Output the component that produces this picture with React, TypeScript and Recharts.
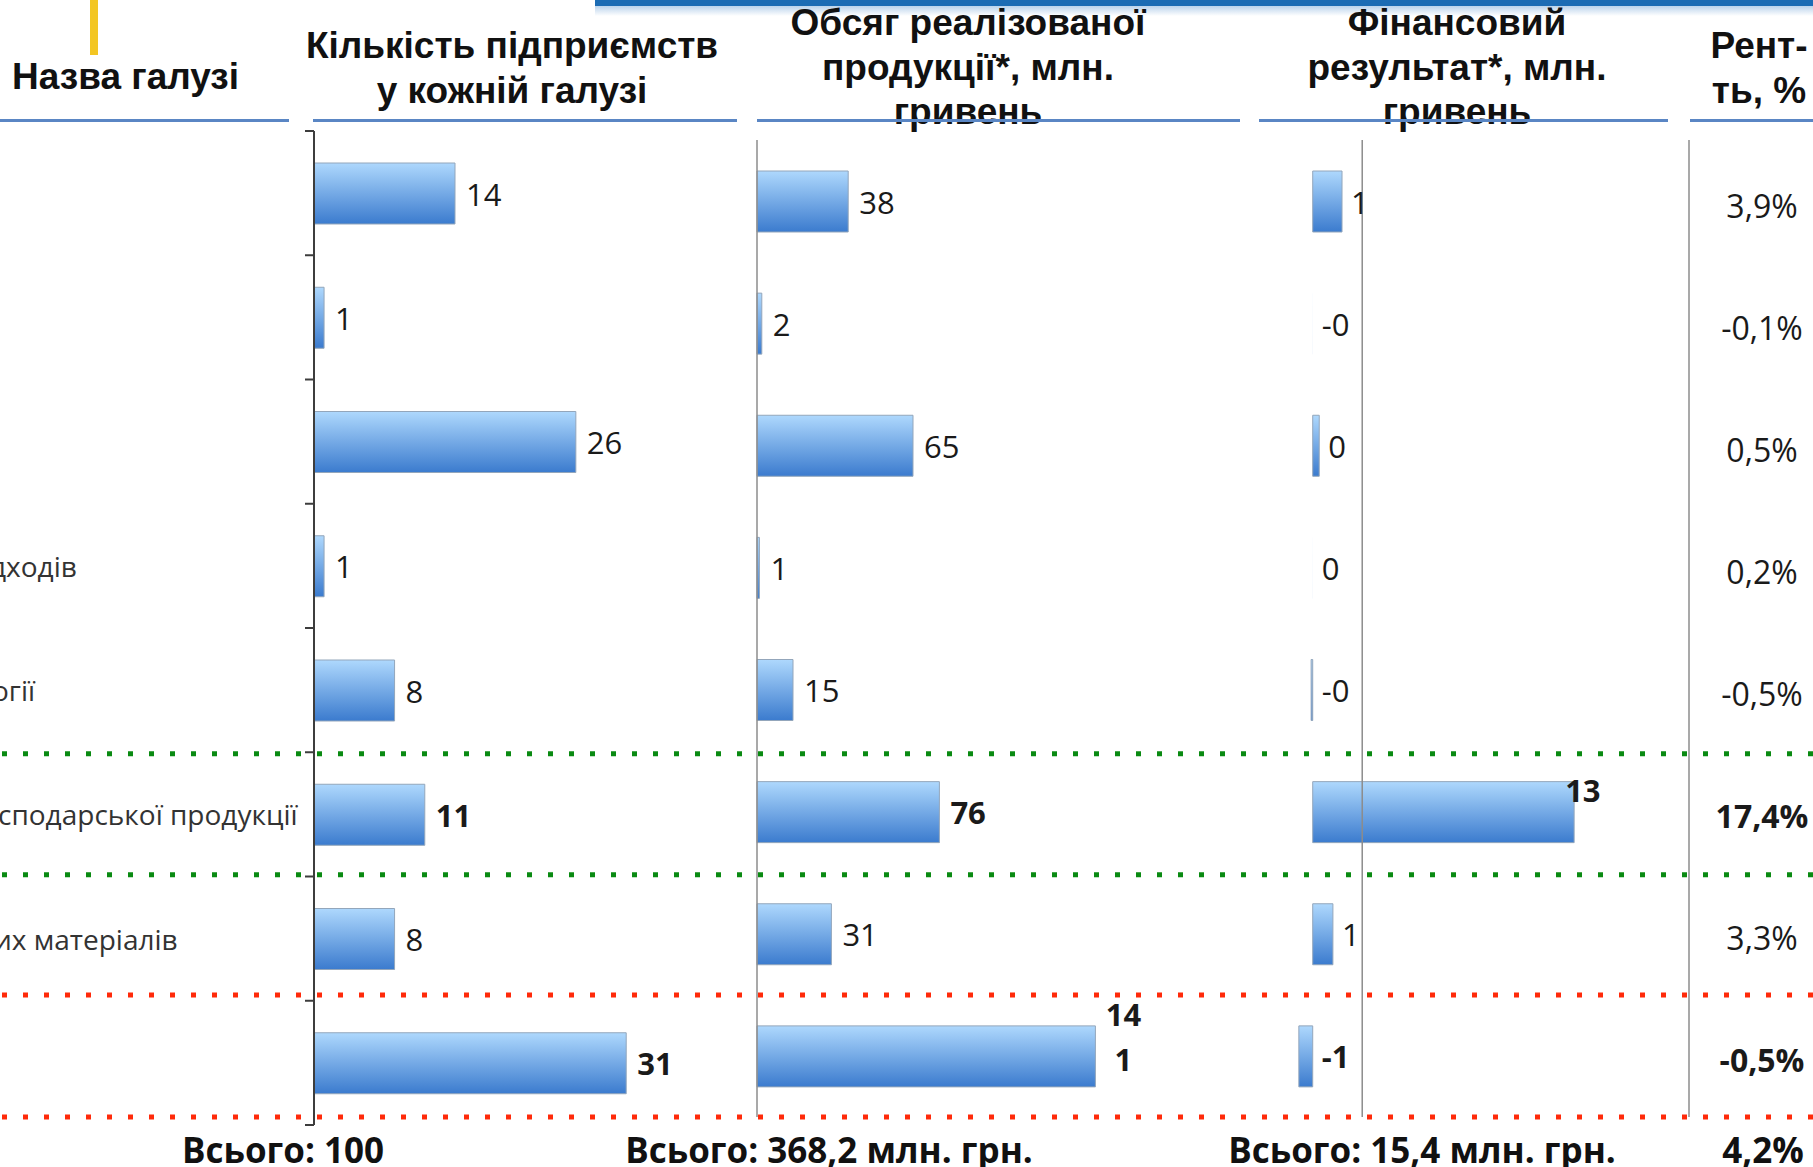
import React from "react";
import { BarChart, Bar, XAxis, YAxis, LabelList, ReferenceLine, Cell } from "recharts";

const rowKeys = ["r1", "r2", "r3", "r4", "r5", "r6", "r7", "r8"];
// visible (cropped) fragments of the industry names
const industryLabels = ["", "", "", "дходів", "огії", "сподарської продукції", "их матеріалів", ""];
const companies = [14, 1, 26, 1, 8, 11, 8, 31];
const salesVolume = [38, 2, 65, 1, 15, 76, 31, 141];
const finResult = [1.48, -0.002, 0.33, 0.002, -0.08, 13.2, 1.02, -0.7];
const profitability = ["3,9%", "-0,1%", "0,5%", "0,2%", "-0,5%", "17,4%", "3,3%", "-0,5%"];
const highlighted = [false, false, false, false, false, true, false, true];
const totals = ["Всього: 100", "Всього: 368,2 млн. грн.", "Всього: 15,4 млн. грн.", "4,2%"];

const rows = rowKeys.map((key, i) => ({
  key,
  companies: companies[i],
  sales: salesVolume[i],
  fin: finResult[i],
}));

const H = 1167;
const BODY = "'Open Sans', 'Noto Sans', sans-serif";
const HEAD = "'Liberation Sans', Arial, sans-serif";

// chart 1 geometry
const C1_TOP = 131;
const C1_BOTTOM = 1125;
const C1_AXIS = 314;
const C1_BAND = (C1_BOTTOM - C1_TOP) / rowKeys.length;
const labelShift = [0, 0, 0, -10, -8, -2, -6, 0];

// charts 2 and 3 geometry
const C2_TOP = 140;
const C2_BOTTOM = 1117;
const C2_BAND = (C2_BOTTOM - C2_TOP) / rowKeys.length;

const BAR_STROKE = "#93a6bb";

function Grad({ id }: { id: string }) {
  return (
    <defs>
      <linearGradient id={id} x1="0" y1="0" x2="0" y2="1">
        <stop offset="0%" stopColor="#aed8fd" />
        <stop offset="100%" stopColor="#3b7bce" />
      </linearGradient>
    </defs>
  );
}

function IndustryTick(props: any) {
  const { y, index } = props;
  const half = C1_BAND / 2;
  const label = industryLabels[index];
  return (
    <g>
      <line x1={C1_AXIS - 9} x2={C1_AXIS} y1={y - half} y2={y - half} stroke="#3d3d3d" strokeWidth={2} />
      {index === rowKeys.length - 1 && (
        <line x1={C1_AXIS - 9} x2={C1_AXIS} y1={y + half} y2={y + half} stroke="#3d3d3d" strokeWidth={2} />
      )}
      {label && (
        <text x={labelShift[index]} y={y} dominantBaseline="central" fontFamily={BODY} fontSize={28} fill="#333">
          {label}
        </text>
      )}
    </g>
  );
}

function valueText(x: number, y: number, text: string, bold: boolean, anchor = "start") {
  return (
    <text
      x={x}
      y={y}
      dominantBaseline="central"
      textAnchor={anchor}
      fontFamily={BODY}
      fontSize={31}
      fontWeight={bold ? 700 : 400}
      fill="#1a1a1a"
    >
      {text}
    </text>
  );
}

function companiesLabel(p: any) {
  const end = Math.max(p.x, p.x + p.width);
  return valueText(end + 11, p.y + p.height / 2, String(p.value), highlighted[p.index]);
}

function salesLabel(p: any) {
  const end = Math.max(p.x, p.x + p.width);
  const cy = p.y + p.height / 2;
  const s = String(p.value);
  if (p.index === rowKeys.length - 1) {
    // wrapped label as in the original
    return (
      <g>
        {valueText(end + 28, cy - 42, s.slice(0, 2), true, "middle")}
        {valueText(end + 28, cy + 3, s.slice(2), true, "middle")}
      </g>
    );
  }
  return valueText(end + 11, cy, s, highlighted[p.index]);
}

function finLabel(p: any) {
  const v = Number(p.value);
  const text = v < 0 ? "-" + Math.abs(Math.round(v)) : String(Math.round(v));
  const end = Math.max(p.x, p.x + p.width);
  const cy = p.y + p.height / 2;
  if (p.index === 5) return valueText(end - 9, cy - 22, text, true);
  return valueText(end + 9, cy, text, highlighted[p.index]);
}

function RentTick(props: any) {
  const { y, index } = props;
  return (
    <text
      x={502}
      y={y + 4}
      dominantBaseline="central"
      textAnchor="middle"
      fontFamily={BODY}
      fontSize={32}
      fontWeight={highlighted[index] ? 700 : 400}
      fill="#1a1a1a"
    >
      {profitability[index]}
    </text>
  );
}

function Header({ x, y, lines, align = "center" }: { x: number; y: number; lines: string[]; align?: string }) {
  return (
    <div
      style={{
        position: "absolute",
        left: x,
        top: y,
        transform: align === "center" ? "translateX(-50%)" : undefined,
        whiteSpace: "nowrap",
        textAlign: "center",
        fontFamily: HEAD,
        fontWeight: 700,
        fontSize: 37,
        lineHeight: "44.5px",
        color: "#111",
      }}
    >
      {lines.map((l, i) => (
        <div key={i}>{l}</div>
      ))}
    </div>
  );
}

function Total({ x, text }: { x: number; text: string }) {
  return (
    <div
      style={{
        position: "absolute",
        left: x,
        top: 1149,
        transform: "translate(-50%, -50%)",
        whiteSpace: "nowrap",
        fontFamily: BODY,
        fontWeight: 700,
        fontSize: 35,
        color: "#111",
      }}
    >
      {text}
    </div>
  );
}

const underlines = [
  [0, 289],
  [313, 737],
  [757, 1240],
  [1259, 1668],
  [1690, 1813],
];

export default function App() {
  const dotted = [
    { k: 5, color: "#0a8a12", nudge: 3 },
    { k: 6, color: "#0a8a12", nudge: 2 },
    { k: 7, color: "#ff2a0a", nudge: 0 },
    { k: 8, color: "#ff2a0a", nudge: 0 },
  ];
  return (
    <div
      style={{
        position: "absolute",
        left: 0,
        top: 0,
        width: 1813,
        height: H,
        overflow: "hidden",
        background: "#fff",
      }}
    >
      {/* top decorations */}
      <div style={{ position: "absolute", left: 595, top: 0, width: 1218, height: 6, background: "#1c6cb4" }} />
      <div
        style={{
          position: "absolute",
          left: 595,
          top: 6,
          width: 1218,
          height: 10,
          background: "linear-gradient(to bottom, rgba(60,130,200,0.35), rgba(255,255,255,0))",
        }}
      />
      <div style={{ position: "absolute", left: 90, top: 0, width: 8, height: 55, background: "#f3c623" }} />

      <Header x={12} y={55} lines={["Назва галузі"]} align="left" />
      <Header x={512} y={24} lines={["Кількість підприємств", "у кожній галузі"]} />
      <Header x={968} y={1} lines={["Обсяг реалізованої", "продукції*, млн.", "гривень"]} />
      <Header x={1457} y={1} lines={["Фінансовий", "результат*, млн.", "гривень"]} />
      <Header x={1759} y={24} lines={["Рент-", "ть, %"]} />

      {underlines.map(([a, b], i) => (
        <div
          key={i}
          style={{ position: "absolute", left: a, top: 119, width: b - a, height: 3, background: "#5a86c4" }}
        />
      ))}

      {/* chart 1: number of enterprises */}
      <div style={{ position: "absolute", left: 0, top: 0 }}>
        <BarChart
          width={737}
          height={H}
          layout="vertical"
          data={rows}
          margin={{ top: C1_TOP, bottom: H - C1_BOTTOM, left: 0, right: 0 }}
        >
          <Grad id="g1" />
          <XAxis type="number" hide domain={[0, 42]} />
          <YAxis
            type="category"
            dataKey="key"
            width={C1_AXIS}
            interval={0}
            axisLine={{ stroke: "#3d3d3d", strokeWidth: 2 }}
            tickLine={false}
            tick={<IndustryTick />}
          />
          <Bar dataKey="companies" fill="url(#g1)" stroke={BAR_STROKE} strokeWidth={1} barSize={61} isAnimationActive={false}>
            <LabelList dataKey="companies" content={companiesLabel} />
          </Bar>
        </BarChart>
      </div>

      {/* chart 2: sales volume */}
      <div style={{ position: "absolute", left: 740, top: 0 }}>
        <BarChart
          width={560}
          height={H}
          layout="vertical"
          data={rows}
          margin={{ top: C2_TOP, bottom: H - C2_BOTTOM, left: 17, right: 63 }}
        >
          <Grad id="g2" />
          <XAxis type="number" hide domain={[0, 200]} />
          <YAxis type="category" dataKey="key" hide />
          <ReferenceLine x={0} stroke="#8c8c8c" strokeWidth={1.5} />
          <Bar dataKey="sales" fill="url(#g2)" stroke={BAR_STROKE} strokeWidth={1} barSize={61} isAnimationActive={false}>
            <LabelList dataKey="sales" content={salesLabel} />
          </Bar>
        </BarChart>
      </div>

      {/* chart 3: financial result + profitability column */}
      <div style={{ position: "absolute", left: 1260, top: 0 }}>
        <BarChart
          width={553}
          height={H}
          layout="vertical"
          data={rows}
          margin={{ top: C2_TOP, bottom: H - C2_BOTTOM, left: 23, right: 0 }}
        >
          <Grad id="g3" />
          <XAxis type="number" hide domain={[-1.5, 19]} />
          <YAxis
            type="category"
            dataKey="key"
            orientation="right"
            width={124}
            interval={0}
            axisLine={{ stroke: "#8c8c8c", strokeWidth: 1.5 }}
            tickLine={false}
            tick={<RentTick />}
          />
          <ReferenceLine x={2.5} stroke="#8c8c8c" strokeWidth={1.5} />
          <Bar dataKey="fin" fill="url(#g3)" strokeWidth={1} barSize={61} isAnimationActive={false}>
            {rows.map((r) => (
              <Cell key={r.key} stroke={Math.abs(r.fin) < 0.01 ? "none" : BAR_STROKE} />
            ))}
            <LabelList dataKey="fin" content={finLabel} />
          </Bar>
        </BarChart>
      </div>

      {/* dotted separators */}
      <svg width={1813} height={H} style={{ position: "absolute", left: 0, top: 0, pointerEvents: "none" }}>
        {dotted.map((d) => {
          const y = C2_TOP + d.k * C2_BAND + d.nudge;
          return (
            <line key={d.k} x1={2} x2={1813} y1={y} y2={y} stroke={d.color} strokeWidth={5} strokeDasharray="5 16" />
          );
        })}
      </svg>

      {totals.map((t, i) => (
        <Total key={i} x={[283, 829, 1422, 1763][i]} text={t} />
      ))}
    </div>
  );
}
